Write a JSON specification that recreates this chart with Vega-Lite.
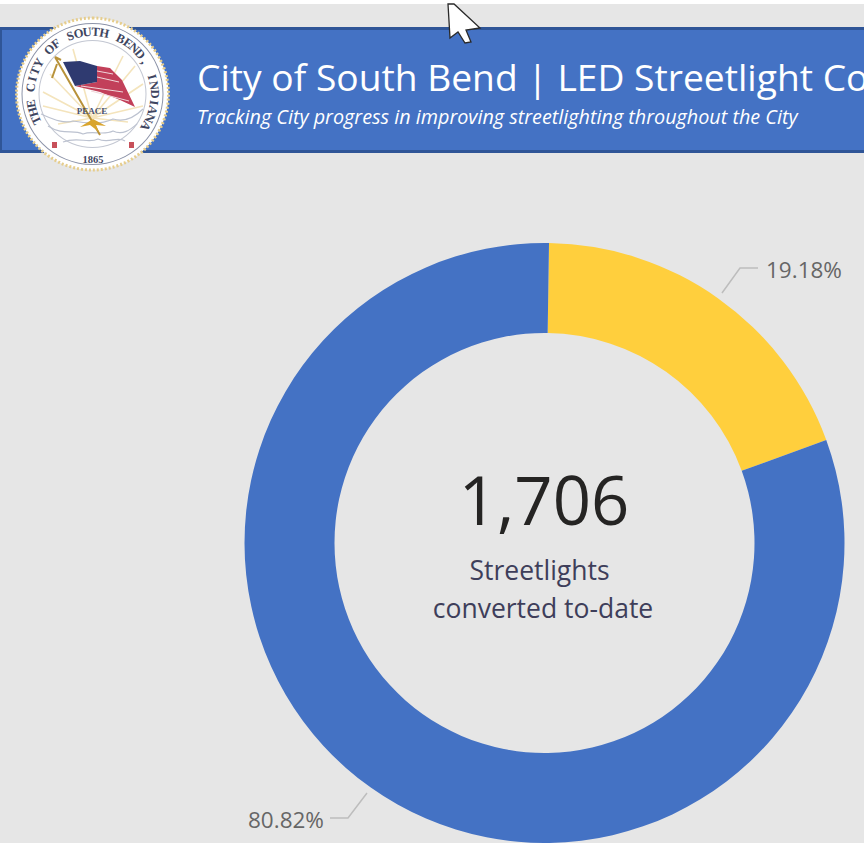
{"$schema":"https://vega.github.io/schema/vega-lite/v6.json","width":864,"height":843,"autosize":{"type":"fit","contains":"padding"},"padding":0,"background":"#E6E6E6","config":{"view":{"stroke":null}},
"data":{"values":[{"note":"decor"}]},
"resolve":{"scale":{"theta":"independent"}},
"datasets":{"share":[{"status":"Converted","pct":0.1918},{"status":"Remaining","pct":0.8082}],
"ring":[{"ch":"T","deg":-115},{"ch":"H","deg":-107},{"ch":"E","deg":-99},{"ch":"C","deg":-84},{"ch":"I","deg":-76},{"ch":"T","deg":-68},{"ch":"Y","deg":-60},{"ch":"O","deg":-44},{"ch":"F","deg":-36},{"ch":"S","deg":-21},{"ch":"O","deg":-13},{"ch":"U","deg":-5},{"ch":"T","deg":3},{"ch":"H","deg":11},{"ch":"B","deg":27},{"ch":"E","deg":35},{"ch":"N","deg":42},{"ch":"D","deg":50},{"ch":",","deg":58},{"ch":"I","deg":74},{"ch":"N","deg":82},{"ch":"D","deg":90},{"ch":"I","deg":98},{"ch":"A","deg":105},{"ch":"N","deg":113},{"ch":"A","deg":121}]},
"layer":[
{"mark":{"type":"rect","x":0,"x2":864,"y":0,"y2":4,"color":"#FFFFFF"},"encoding":{}},
{"mark":{"type":"rect","x":0,"x2":864,"y":27,"y2":153,"color":"#2F5597"},"encoding":{}},
{"mark":{"type":"rect","x":2,"x2":864,"y":30,"y2":150,"color":"#4472C4"},"encoding":{}},
{"mark":{"type":"text","x":197,"y":91,"text":"City of South Bend | LED Streetlight Conversion","font":"Open Sans","fontSize":37.2,"color":"#FFFFFF","align":"left","baseline":"alphabetic"},"encoding":{}},
{"mark":{"type":"text","x":197,"y":124,"text":"Tracking City progress in improving streetlighting throughout the City","font":"Open Sans","fontStyle":"italic","fontSize":19.8,"color":"#FFFFFF","align":"left","baseline":"alphabetic"},"encoding":{}},
{"mark":{"type":"arc","x":92.5,"y":94,"radius":76,"radius2":0,"theta":0,"theta2":6.2832,"color":"#FFFFFF","stroke":"#E6CD8C","strokeWidth":3,"strokeDash":[2,2]},"encoding":{}},
{"mark":{"type":"arc","x":92.5,"y":94,"radius":71,"radius2":70,"theta":0,"theta2":6.2832,"color":"#8C93A8"},"encoding":{}},
{"mark":{"type":"arc","x":92.5,"y":94,"radius":54,"radius2":53,"theta":0,"theta2":6.2832,"color":"#C3C7D2"},"encoding":{}},
{"data":{"name":"ring"},"mark":{"type":"text","x":92.5,"y":94,"font":"Liberation Serif","fontWeight":"bold","fontSize":12.5,"color":"#3E4560","baseline":"middle","align":"center"},"encoding":{"theta":{"field":"deg","type":"quantitative","scale":{"domain":[-180,180],"range":[-3.14159,3.14159]}},"radius":{"value":62},"angle":{"field":"deg","type":"quantitative","scale":{"domain":[-360,360],"range":[-360,360]}},"text":{"field":"ch"}}},
{"mark":{"type":"point","x":93,"y":94,"size":40000,"filled":false,"stroke":"#F4E4BC","strokeWidth":1.6,"opacity":1,"shape":"M-.01 .24L-.5 .12M-.01 .24L-.5 -.02M-.01 .24L-.43 -.2M-.01 .24L-.2 -.45M-.01 .24L.3 -.38M-.01 .24L.42 -.28M-.01 .24L.5 -.1M-.01 .24L.5 .12M-.01 .24L-.35 .3M-.01 .24L.35 .28"},"encoding":{}},
{"mark":{"type":"point","x":93,"y":94,"size":40000,"filled":false,"stroke":"#BCC2D0","strokeWidth":1.2,"opacity":1,"shape":"M-.52 .2C-.4 .25 -.3 .3 -.2 .27C-.05 .3 .1 .3 .2 .25C.3 .28 .4 .25 .5 .15M-.45 .32C-.3 .42 -.2 .35 -.1 .4C0 .36 .1 .42 .2 .37C.3 .42 .38 .35 .44 .3M-.3 .48C-.15 .42 -.05 .5 .05 .45C.15 .5 .25 .42 .32 .47"},"encoding":{}},
{"mark":{"type":"point","x":93,"y":94,"size":40000,"filled":true,"fill":"#C2405A","opacity":1,"shape":"M.04 -.28L.17 -.26L.29 -.14L.42 .13L.27 .06L.07 -.02L-.18 -.08L.04 -.12Z"},"encoding":{}},
{"mark":{"type":"point","x":93,"y":94,"size":40000,"filled":false,"stroke":"#F0D6DA","strokeWidth":1,"opacity":1,"shape":"M.04 -.23L.2 -.2M.04 -.17L.26 -.12M-.12 -.08L.3 -.02M-.02 -.03L.36 .07"},"encoding":{}},
{"mark":{"type":"point","x":93,"y":94,"size":40000,"filled":true,"fill":"#2F3A70","opacity":1,"shape":"M-.3 -.32L-.13 -.33L.04 -.28L.04 -.12L-.18 -.08Z"},"encoding":{}},
{"mark":{"type":"point","x":93,"y":94,"size":40000,"filled":false,"stroke":"#B8923A","strokeWidth":2,"opacity":1,"shape":"M-.38 -.37L.07 .41M-.38 -.37L-.32 -.34M-.36 -.3L-.41 -.16"},"encoding":{}},
{"mark":{"type":"point","x":93,"y":94,"size":40000,"filled":true,"fill":"#D9A52E","opacity":1,"shape":"M-.13 .33L0 .25L.13 .32L.03 .31L.06 .38L-.03 .31Z"},"encoding":{}},
{"mark":{"type":"point","x":93,"y":94,"size":40000,"filled":true,"fill":"#C7505A","opacity":1,"shape":"M-.41 .48L-.36 .48L-.36 .54L-.41 .54ZM.36 .48L.41 .48L.41 .54L.36 .54Z"},"encoding":{}},
{"mark":{"type":"text","x":92,"y":114,"text":"PEACE","font":"Liberation Serif","fontWeight":"bold","fontSize":9,"color":"#4A5270","baseline":"alphabetic"},"encoding":{}},
{"mark":{"type":"text","x":93,"y":163,"text":"1865","font":"Liberation Serif","fontWeight":"bold","fontSize":10.5,"color":"#3E4560","baseline":"alphabetic"},"encoding":{}},
{"data":{"name":"share"},"mark":{"type":"arc","x":544.5,"y":543,"radius":300,"radius2":210},"encoding":{"theta":{"field":"pct","type":"quantitative","stack":true,"scale":{"domain":[0,1],"range":[0.015,6.2982]}},"color":{"field":"status","type":"nominal","legend":null,"scale":{"domain":["Converted","Remaining"],"range":["#FFCF3D","#4472C4"]}}}},
{"mark":{"type":"text","x":544,"y":525,"text":"1,706","font":"Open Sans","fontSize":67,"color":"#252423","baseline":"alphabetic"},"encoding":{}},
{"mark":{"type":"text","x":539.5,"y":580,"text":"Streetlights","font":"Open Sans","fontSize":26.5,"color":"#3E3E5A","baseline":"alphabetic"},"encoding":{}},
{"mark":{"type":"text","x":543,"y":618,"text":"converted to-date","font":"Open Sans","fontSize":26.5,"color":"#3E3E5A","baseline":"alphabetic"},"encoding":{}},
{"data":{"name":"share"},"transform":[{"filter":"datum.status==='Converted'"}],"mark":{"type":"text","x":766,"y":278,"align":"left","baseline":"alphabetic","font":"Open Sans","fontSize":22.5,"color":"#666666"},"encoding":{"text":{"field":"pct","type":"quantitative","format":".2%"}}},
{"data":{"name":"share"},"transform":[{"filter":"datum.status==='Remaining'"}],"mark":{"type":"text","x":248,"y":828,"align":"left","baseline":"alphabetic","font":"Open Sans","fontSize":22.5,"color":"#666666"},"encoding":{"text":{"field":"pct","type":"quantitative","format":".2%"}}},
{"mark":{"type":"point","x":740,"y":268,"size":40000,"filled":false,"stroke":"#BDBDBD","strokeWidth":1.5,"opacity":1,"shape":"M-.18 .25L0 0L.18 0"},"encoding":{}},
{"mark":{"type":"point","x":348,"y":818,"size":40000,"filled":false,"stroke":"#BDBDBD","strokeWidth":1.5,"opacity":1,"shape":"M-.18 0L0 0L.19 -.25"},"encoding":{}},
{"mark":{"type":"point","x":460,"y":25,"size":10000,"filled":true,"fill":"#FFFFFF","stroke":"#2A2A2A","strokeWidth":1.3,"opacity":1,"shape":"M-.24 -.42L-.2 .26L-.04 .14L.1 .36L.22 .34L.12 .1L.4 .06L-.12 -.42Z"},"encoding":{}}
]}
